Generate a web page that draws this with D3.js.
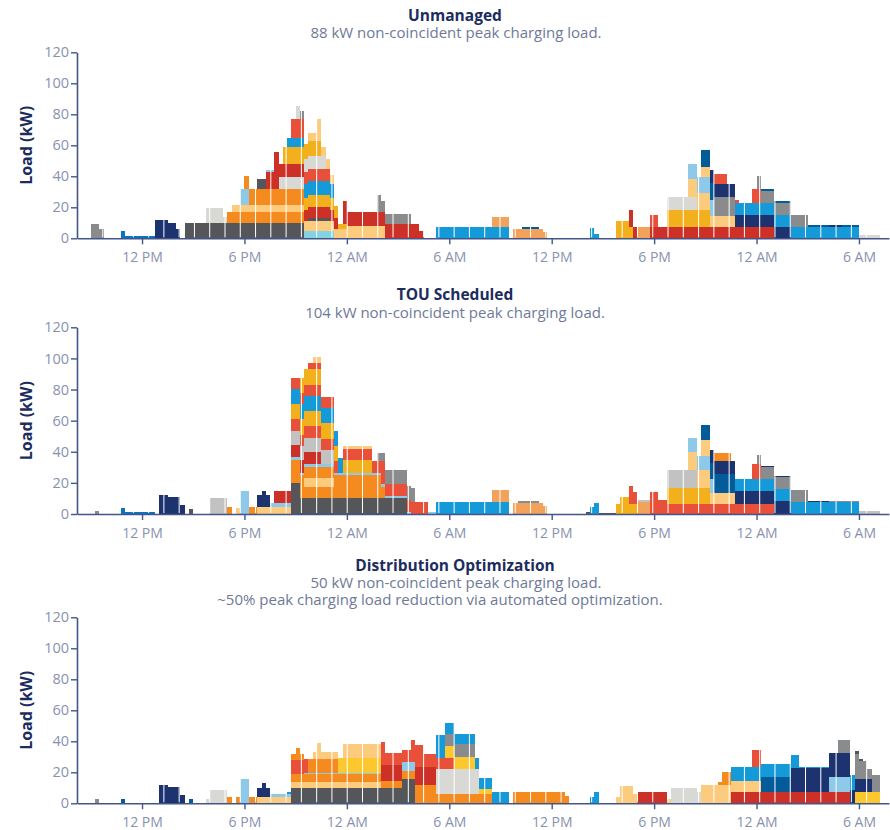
<!DOCTYPE html>
<html><head><meta charset="utf-8">
<script src="https://cdn.jsdelivr.net/npm/d3@7"></script>
<style>body{margin:0;background:#fff;} svg{display:block;font-family:'Open Sans',sans-serif;}</style>
</head><body><svg id="chart" width="890" height="830"></svg>
<script>
// ---------- DATA ----------
// vehicle categories (colour keys) and their colours
const vehicles = ["DG","MG","LG","SG","OR","PE","GO","YL","RD","RL","LB","CB","NV","DB","MB","TN","LC"];
const vehicleColors = ["#55565a","#8a8b8d","#d8d8d5","#c2c2c2","#f58b1f","#fdcb7e","#f2b11c","#fdc72e","#cc3026","#e8503a","#8ec9ea","#149ad8","#1c3370","#035c99","#0a74c0","#f2a25a","#84d3e3"];

// x axis: hours since midnight of day 1
const xTickHours = [12,18,24,30,36,42,48,54];
const xTickLabels = ["12 PM","6 PM","12 AM","6 AM","12 PM","6 PM","12 AM","6 AM"];
const yTicks = [0,20,40,60,80,100,120];

const panelTitles = ["Unmanaged","TOU Scheduled","Distribution Optimization"];
const panelSubtitles = [
  ["88 kW non-coincident peak charging load."],
  ["104 kW non-coincident peak charging load."],
  ["50 kW non-coincident peak charging load.","~50% peak charging load reduction via automated optimization."]
];

// charging sessions: [vehicle, start hour, end hour, kW] (stack order bottom -> top)
const unmanagedSessions = [
  ["MG",9.0,9.75,6],["MG",9.0,9.5,3],["MB",10.75,11.0,4.5],["MB",11.0,12.75,1.5],
  ["NV",12.75,14.25,6],["NV",12.75,14.0,4],["NV",12.75,13.5,2],
  ["DG",14.5,21.5,10],["LG",15.75,16.75,9.5],["LG",16.75,17.0,4],
  ["OR",17.0,21.5,7],["PE",17.25,21.5,4.5],["LB",17.75,18.25,10],["OR",18.0,18.25,9],
  ["OR",18.25,21.5,10],["DG",18.75,19.25,7],["RD",19.25,20.0,11],["LB",19.25,19.75,1.5],["RD",19.75,20.0,13],
  ["LG",20.0,21.5,8],["RD",20.0,21.5,8.5],["GO",20.25,21.5,11],["CB",20.5,21.5,6],
  ["RL",20.75,21.5,12],["LG",21.0,21.25,8.5],["MG",21.25,21.5,5],
  ["LC",21.5,23.25,5],["PE",21.5,24.0,6],["DG",21.75,23.0,2],["RD",21.5,23.5,7],["GO",21.5,23.5,8],
  ["CB",21.5,23.25,9],["RL",21.5,23.0,8],["LG",21.5,22.75,8],["GO",21.5,22.5,10],
  ["PE",21.75,22.5,5],["PE",22.25,22.5,9],["PE",22.5,23.25,6],["GO",23.5,24.0,3],
  ["PE",24.0,26.25,8],["RD",23.75,28.25,9],["RD",23.75,24.0,6],["MG",25.75,27.75,7],["MG",25.75,26.0,4],
  ["RD",28.25,28.5,5],
  ["CB",29.25,33.5,7.5],["TN",32.5,33.5,6.5],["TN",33.75,35.5,6],["TN",35.5,35.75,4],["DB",34.25,35.25,1.5],
  ["CB",38.25,38.5,6.5],["CB",38.5,38.75,3],
  ["GO",39.75,40.75,7.5],["GO",39.75,40.5,3.5],["RD",40.5,40.75,10.5],["RD",40.75,41.0,7],
  ["TN",41.0,41.75,7.5],["RD",41.75,49.0,7.5],["RL",41.75,42.25,7.5],["NV",46.75,50.0,7.5],
  ["GO",42.75,45.25,10.75],["CB",46.75,54.0,7.5],["PE",45.25,46.75,7],["LG",42.75,44.5,8.7],
  ["PE",44.0,45.25,11],["LB",44.0,45.5,10],["PE",44.75,45.25,7],["DB",44.75,45.5,11],
  ["MG",45.5,46.75,12],["NV",45.25,46.75,8.5],["RL",45.5,46.25,6.5],["RL",46.75,47.0,2],
  ["RL",47.75,48.25,9.5],["MG",48.0,48.25,8.4],["MG",48.25,50.0,8],["MG",50.0,51.0,7.5],
  ["DB",48.25,50.0,1.2],["DB",51.0,52.25,1],["NV",52.25,53.0,1],["DB",53.0,54.0,1],["LG",54.0,55.25,2]
];

const touSessions = [
  ["MG",9.25,9.5,2],["MB",10.75,11.0,4],["MB",11.0,12.75,1],
  ["NV",13.0,14.5,6],["NV",13.0,14.25,5],["NV",13.0,13.5,1],["DG",14.75,15.0,3.5],
  ["SG",16.0,17.0,10],["OR",17.0,17.25,4.5],["PE",17.5,17.75,4],["LB",17.75,18.25,15],
  ["OR",18.25,18.75,4.5],["PE",18.75,20.75,4.5],["NV",18.75,19.5,8],["NV",19.0,19.25,2],
  ["LB",19.5,20.75,2.5],["RD",19.75,20.75,8],
  ["DG",20.75,27.5,10],["DG",20.75,21.25,10],["OR",20.75,26.0,7.5],["PE",21.5,23.25,5.5],
  ["OR",20.75,26.25,7.5],["LB",20.75,27.75,1.5],["RL",26.0,28.75,7.5],["RD",20.75,22.5,8],
  ["SG",20.75,23.25,9],["RL",20.75,23.5,7.5],["GO",20.75,23.5,10],["CB",20.75,23.75,9.5],
  ["RL",20.75,23.25,7],["GO",21.25,22.5,10],["RL",21.75,22.5,4],["PE",22.0,22.5,4],
  ["GO",23.75,25.5,8],["RL",23.75,26.25,7.5],["PE",23.75,25.5,1.5],["MG",25.75,26.25,5],
  ["MG",26.25,28.0,9],["LB",28.75,29.25,1.5],
  ["CB",29.25,33.5,8],["TN",32.5,33.5,7.5],["TN",33.75,35.5,7],["TN",35.5,35.75,5],["MG",34.0,35.25,1.5],
  ["DG",38.0,38.25,1],["CB",38.25,38.5,4.7],["CB",38.5,38.75,7.3],["DG",38.75,39.75,0.8],
  ["GO",39.75,41.0,6.5],["GO",40.0,40.5,4.2],["RL",40.5,40.75,11.5],["RL",40.75,41.0,7.5],
  ["TN",41.0,41.75,8],["SG",41.0,41.75,0.8],
  ["RL",41.75,49.0,6.5],["RL",41.75,42.25,7.5],["RL",42.25,42.75,2.5],["NV",46.75,50.0,8.4],
  ["GO",42.75,45.25,10],["CB",46.75,54.0,7.6],["PE",45.25,46.75,7],["SG",42.75,44.5,11.5],
  ["PE",44.0,45.25,12],["LB",44.0,45.5,9],["PE",44.75,45.25,10],["DB",44.75,45.5,10],
  ["DB",45.5,46.75,12],["NV",45.25,46.75,8.5],["OR",45.5,46.5,5],
  ["RL",47.75,48.25,9.5],["MG",48.0,48.25,6],["MG",48.25,50.0,7.5],["MG",50.0,51.0,8],
  ["NV",48.25,50.0,1],["NV",51.0,52.25,1],["MG",52.25,54.0,0.8],["SG",54.0,55.25,2]
];

const optimizedSessions = [
  ["MG",9.25,9.5,2.8],["DB",10.75,11.0,3],
  ["NV",13.0,14.5,5.5],["NV",13.0,14.25,5],["NV",13.0,13.5,1.5],["DB",14.75,15.0,2.5],
  ["LG",15.75,16.0,3],["LG",16.0,17.0,8.6],["OR",17.0,17.25,4],["OR",17.5,17.75,4],
  ["LB",17.75,18.25,15.5],["OR",18.25,18.75,4],["PE",18.75,20.75,4],["NV",18.75,19.5,6],
  ["NV",19.0,19.25,3],["LB",19.5,20.75,2],["CB",20.5,20.75,1.5],
  ["DG",20.75,28.0,9.7],["DG",27.25,28.0,6],["PE",20.75,26.0,4.3],["OR",20.75,28.0,5],
  ["OR",28.0,29.25,12],["LB",21.5,26.0,0.8],["RL",20.75,21.75,9],["OR",20.75,21.5,4],
  ["OR",21.0,21.25,4],["OR",21.75,23.5,8.5],["PE",22.0,23.5,4.7],["PE",22.25,22.5,6],
  ["YL",23.5,26.0,9.5],["PE",23.75,26.0,9],["RD",26.0,27.25,10],["LB",27.25,28.0,6],
  ["RD",28.0,29.25,11.6],["RL",26.0,29.25,8],["RL",26.0,26.25,7],["RL",27.75,28.5,6],
  ["OR",29.25,32.5,6],["LG",29.25,31.75,16],["RL",29.25,30.25,7],["CB",29.25,29.75,8],
  ["YL",29.75,31.5,8],["MG",29.75,31.5,8],["CB",29.25,31.75,7],["YL",31.75,32.5,3],
  ["CB",31.75,33.5,7.5],
  ["OR",33.75,36.75,7],["OR",36.75,37.0,5],["CB",38.25,38.5,4],["CB",38.5,38.75,7],
  ["PE",39.75,40.0,4],["PE",40.0,40.75,11],["PE",40.75,41.0,6],["RD",41.0,42.75,7],
  ["PE",42.75,43.0,3],["LG",43.0,44.5,10],["LG",44.5,44.75,7],["PE",44.75,46.5,12],
  ["OR",45.75,46.5,2],["OR",46.0,46.5,6],
  ["RD",46.5,53.5,7],["PE",46.5,48.25,7.5],["DB",48.25,50.0,10],["LB",52.25,53.5,10],
  ["NV",50.0,53.5,15.5],["CB",46.5,50.5,8.6],["CB",50.5,52.25,1.2],["RL",47.75,48.25,11.5],
  ["MG",52.75,53.5,8.4],
  ["YL",53.75,55.25,7.5],["NV",53.5,54.75,8.5],["CB",53.5,53.75,10],["MG",53.75,54.0,16],
  ["MG",54.0,54.5,11],["MG",54.5,54.75,6],["MG",54.75,55.25,10.8],["DG",53.75,54.25,1.5]
];

// ---------- DRAW ----------
const svg = d3.select("#chart");
const color = d3.scaleOrdinal(vehicles, vehicleColors);
const x = d3.scaleLinear().domain([8.19, 55.76]).range([77, 889]);

const AXIS = "#44558a", TICK_TXT = "#8892ae", TITLE = "#1b2c5e", SUB = "#6e7998";

function stackSegments(sessions){
  const step = 0.25, t0 = 8, t1 = 56;
  const n = Math.round((t1 - t0) / step);
  const per = sessions.map(() => []);
  for (let i = 0; i < n; i++) {
    const a = t0 + i * step, b = a + step, mid = (a + b) / 2;
    let base = 0;
    sessions.forEach((s, j) => {
      if (s[1] < mid && s[2] > mid) { per[j].push({a, b, y0: base, y1: base + s[3]}); base += s[3]; }
    });
  }
  const segs = [];
  per.forEach((arr, j) => {
    let cur = null;
    arr.forEach(p => {
      if (cur && Math.abs(cur.b - p.a) < 1e-6 && Math.abs(cur.y0 - p.y0) < 1e-6) cur.b = p.b;
      else { if (cur) segs.push(cur); cur = {key: sessions[j][0], a: p.a, b: p.b, y0: p.y0, y1: p.y1}; }
    });
    if (cur) segs.push(cur);
  });
  return segs;
}

const panels = [
  {sessions: unmanagedSessions, top: 52.3, bottom: 238.3, titleY: 20.5, subY: [38], subX: [456]},
  {sessions: touSessions, top: 327.3, bottom: 514, titleY: 299.5, subY: [317.5], subX: [455]},
  {sessions: optimizedSessions, top: 617.3, bottom: 803.3, titleY: 570.5, subY: [587.5, 604.5], subX: [456, 440]}
];

panels.forEach((p, pi) => {
  const y = d3.scaleLinear().domain([0, 120]).range([p.bottom, p.top]);
  const g = svg.append("g");

  // bars
  const segs = stackSegments(p.sessions);
  g.append("g").selectAll("rect").data(segs).join("rect")
    .attr("x", d => x(d.a)).attr("width", d => x(d.b) - x(d.a))
    .attr("y", d => y(d.y1)).attr("height", d => y(d.y0) - y(d.y1))
    .attr("fill", d => color(d.key)).attr("shape-rendering", "crispEdges");

  // white separator lines seen in the bars
  const seps = d3.range(7.91, 55.8, 0.895).filter(h => h > 8.3);
  g.append("g").selectAll("line").data(seps).join("line")
    .attr("x1", d => x(d)).attr("x2", d => x(d))
    .attr("y1", y(0) - 1).attr("y2", y(120))
    .attr("stroke", "#fff").attr("stroke-width", 1);

  // x axis
  const xa = g.append("g").attr("transform", `translate(0,${p.bottom})`)
    .call(d3.axisBottom(x).tickValues(xTickHours).tickFormat((d, i) => xTickLabels[i]).tickSize(6).tickSizeOuter(0));
  xa.select(".domain").attr("stroke", AXIS).attr("stroke-width", 1.6);
  xa.selectAll(".tick line").attr("stroke", AXIS).attr("stroke-width", 1.4);
  xa.selectAll(".tick text").attr("fill", TICK_TXT).attr("font-size", 14)
    .attr("font-family", "'Open Sans',sans-serif").attr("dy", "1.05em");

  // y axis
  const ya = g.append("g").attr("transform", `translate(${x.range()[0]},0)`)
    .call(d3.axisLeft(y).tickValues(yTicks).tickSize(6).tickSizeOuter(0));
  ya.select(".domain").attr("stroke", AXIS).attr("stroke-width", 1.6);
  ya.selectAll(".tick line").attr("stroke", AXIS).attr("stroke-width", 1.4);
  ya.selectAll(".tick text").attr("fill", TICK_TXT).attr("font-size", 14.5)
    .attr("font-family", "'Open Sans',sans-serif").attr("x", -8);

  // y title
  g.append("text").attr("transform", `translate(32,${(p.top + p.bottom) / 2}) rotate(-90)`)
    .attr("text-anchor", "middle").attr("font-size", 16).attr("font-weight", 700)
    .attr("fill", TITLE).text("Load (kW)");

  // titles
  g.append("text").attr("x", 455).attr("y", p.titleY).attr("text-anchor", "middle")
    .attr("font-size", 15.5).attr("font-weight", 700).attr("fill", TITLE).text(panelTitles[pi]);
  panelSubtitles[pi].forEach((s, k) => {
    g.append("text").attr("x", p.subX[k]).attr("y", p.subY[k]).attr("text-anchor", "middle")
      .attr("font-size", 15).attr("fill", SUB).text(s);
  });
});
</script>
</body></html>
